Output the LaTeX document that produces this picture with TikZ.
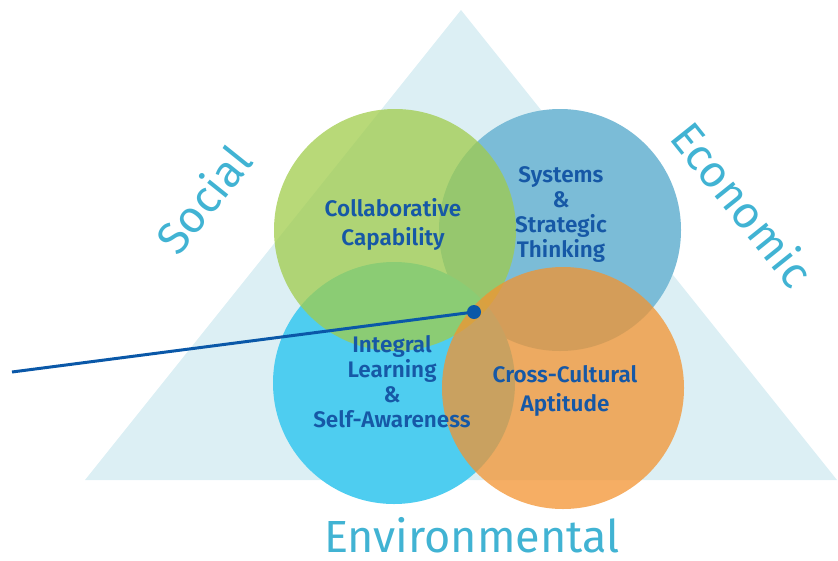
\documentclass[tikz,border=0pt]{standalone}
\usepackage{fontspec}
\setmainfont{Fira Sans}
\newfontfamily\semib{Fira Sans SemiBold}
\definecolor{tri}{RGB}{220,239,244}
\definecolor{cblue}{RGB}{123,188,215}
\definecolor{ccyan}{RGB}{78,205,240}
\definecolor{cgreen}{RGB}{160,204,75}
\definecolor{corange}{RGB}{243,147,48}
\definecolor{txt}{RGB}{22,88,166}
\definecolor{lab}{RGB}{65,179,211}
\definecolor{lineblue}{RGB}{10,88,168}
\tikzset{
  bubble/.style={circle, minimum size=242pt, inner sep=0pt},
  inner/.style={font=\semib\fontsize{22.5}{25}\selectfont, text=txt, align=center},
  innertwo/.style={font=\semib\fontsize{22.5}{29}\selectfont, text=txt, align=center},
  outer/.style={font=\fontsize{45}{45}\selectfont, text=lab, inner sep=0pt},
}
\begin{document}
\begin{tikzpicture}[x=1pt,y=-1pt]
\useasboundingbox (0,0) rectangle (838,560);
\fill[tri] (461,10) -- (837,480) -- (85,480) -- cycle;
\node[bubble, fill=cblue] (sys) at (560,230) {};
\node[bubble, fill=ccyan] (integ) at (394,383) {};
\node[bubble, fill=cgreen, fill opacity=0.75] (coll) at (395,230) {};
\node[bubble, fill=corange, fill opacity=0.75] (cross) at (563,388) {};
\node[innertwo] (tcoll) at (393,224) {Collaborative\\Capability};
\node[inner] (tsys) at (561,215) {Systems\\\&\\Strategic\\Thinking};
\node[inner] (tint) at (392,382) {Integral\\Learning\\\&\\Self-Awareness};
\node[innertwo] (tcross) at (565,391) {Cross-Cultural\\Aptitude};
\node[outer, rotate=51.3] (social) at (203,199) {Social};
\node[outer, rotate=-51.3] (econ) at (743,204) {Economic};
\node[outer, anchor=base] (env) at (472,552) {Environmental};
\coordinate (lstart) at (12,372);
\node[circle, fill=lineblue, minimum size=14pt, inner sep=0pt] (dot) at (474,312) {};
\draw[lineblue, line width=3pt] (lstart) -- (dot.center);
\end{tikzpicture}
\end{document}
